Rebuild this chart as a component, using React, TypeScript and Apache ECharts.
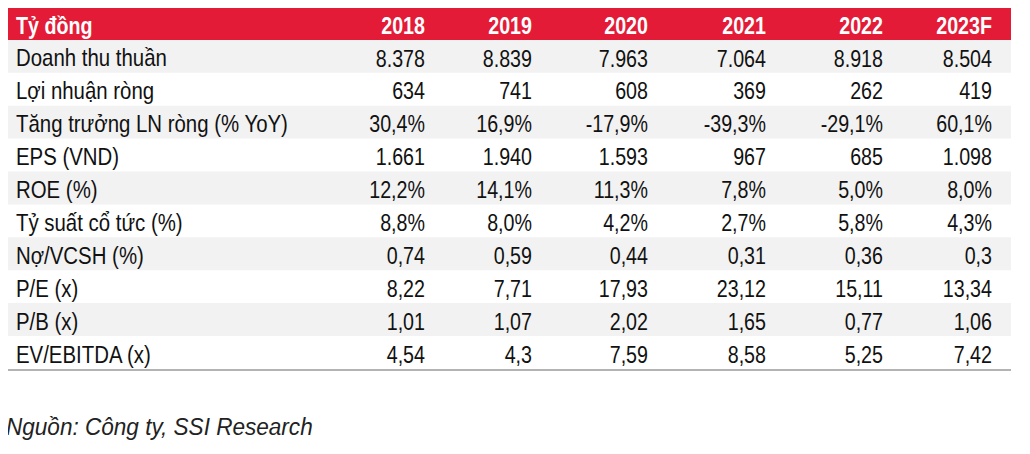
import React, { useEffect, useRef } from "react";
import * as echarts from "echarts";

const headerLabel = "Tỷ đồng";
const years = ["2018", "2019", "2020", "2021", "2022", "2023F"];
const rowLabels = [
  "Doanh thu thuần",
  "Lợi nhuận ròng",
  "Tăng trưởng LN ròng (% YoY)",
  "EPS (VND)",
  "ROE (%)",
  "Tỷ suất cổ tức (%)",
  "Nợ/VCSH (%)",
  "P/E (x)",
  "P/B (x)",
  "EV/EBITDA (x)",
];
const revenue = ["8.378", "8.839", "7.963", "7.064", "8.918", "8.504"];
const netProfit = ["634", "741", "608", "369", "262", "419"];
const profitGrowth = ["30,4%", "16,9%", "-17,9%", "-39,3%", "-29,1%", "60,1%"];
const eps = ["1.661", "1.940", "1.593", "967", "685", "1.098"];
const roe = ["12,2%", "14,1%", "11,3%", "7,8%", "5,0%", "8,0%"];
const dividendYield = ["8,8%", "8,0%", "4,2%", "2,7%", "5,8%", "4,3%"];
const debtToEquity = ["0,74", "0,59", "0,44", "0,31", "0,36", "0,3"];
const pe = ["8,22", "7,71", "17,93", "23,12", "15,11", "13,34"];
const pb = ["1,01", "1,07", "2,02", "1,65", "0,77", "1,06"];
const evEbitda = ["4,54", "4,3", "7,59", "8,58", "5,25", "7,42"];
const sourceNote = "Nguồn: Công ty, SSI Research";

const rows = [revenue, netProfit, profitGrowth, eps, roe, dividendYield, debtToEquity, pe, pb, evEbitda];

const FONT = "'Liberation Sans', Arial, sans-serif";

export default function App() {
  const ref = useRef<HTMLDivElement>(null);
  useEffect(() => {
    if (!ref.current) return;
    const chart = echarts.init(ref.current, null, { renderer: "svg" });
    const left = -8;
    const right = 1003;
    const top = -1;
    const rowH = 32.9;
    const colRight = [417, 524, 640, 758, 875, 984];
    const labelX = 8;
    const fs = 24;
    const els: any[] = [];
    const txt = (x: number, y: number, text: string, font: string, fill: string, align: string, sx: number) => ({
      type: "text",
      x,
      y,
      scaleX: sx,
      style: { text, fill, font, textAlign: align, textVerticalAlign: "middle" },
    });
    els.push({
      type: "rect",
      shape: { x: left, y: top, width: right - left, height: rowH },
      style: { fill: "#E31B36" },
      silent: true,
    });
    els.push(txt(labelX, top + rowH / 2 + 2, headerLabel, `bold ${fs}px ${FONT}`, "#fff", "left", 0.82));
    years.forEach((yr, j) => {
      els.push(txt(colRight[j], top + rowH / 2 + 2, yr, `bold ${fs}px ${FONT}`, "#fff", "right", 0.82));
    });
    rows.forEach((vals, i) => {
      const y0 = top + rowH * (i + 1);
      if (i % 2 === 0) {
        els.push({
          type: "rect",
          shape: { x: left, y: y0, width: right - left, height: rowH },
          style: { fill: "#F2F2F2" },
          silent: true,
        });
      }
      els.push(txt(labelX, y0 + rowH / 2 + 2, rowLabels[i], `${fs}px ${FONT}`, "#111", "left", 0.85));
      vals.forEach((v, j) => {
        els.push(txt(colRight[j], y0 + rowH / 2 + 2, v, `${fs}px ${FONT}`, "#111", "right", 0.82));
      });
    });
    const bottomY = top + rowH * (rows.length + 1) + 1;
    els.push({
      type: "line",
      shape: { x1: left, y1: bottomY, x2: right, y2: bottomY },
      style: { stroke: "#B3B3B3", lineWidth: 2 },
    });
    els.push(txt(-2, 419, sourceNote, `italic ${fs}px ${FONT}`, "#222", "left", 0.94));
    chart.setOption({ animation: false, graphic: { elements: els } });
    return () => chart.dispose();
  }, []);
  return <div ref={ref} style={{ width: 1014, height: 438 }} />;
}
